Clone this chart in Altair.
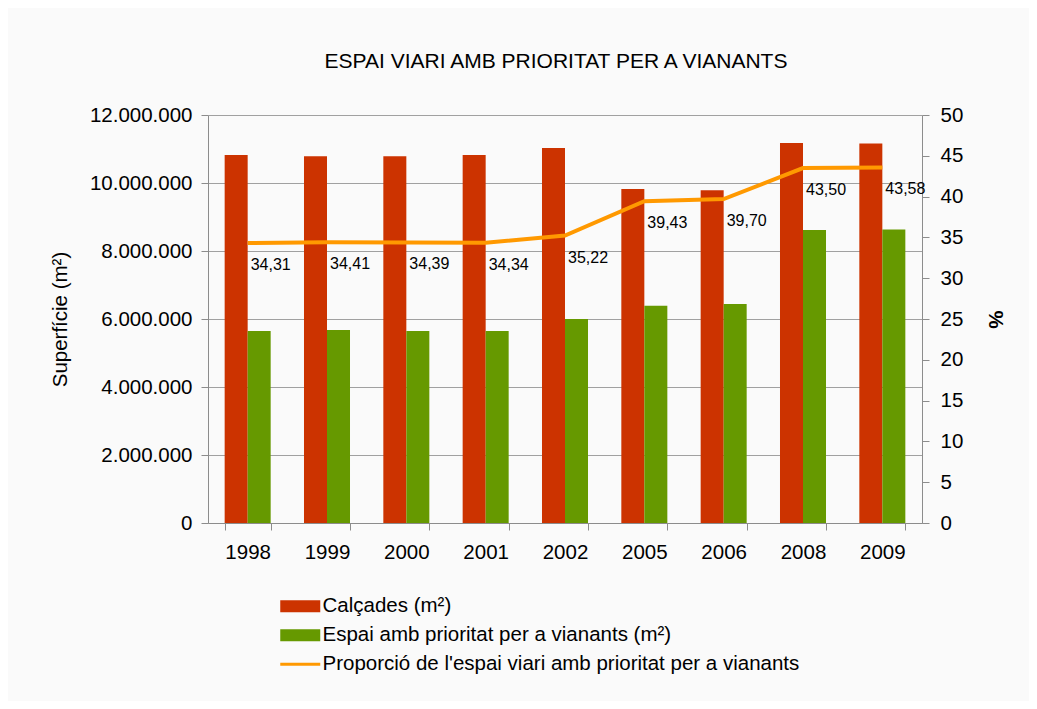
import altair as alt
import pandas as pd

years = ["1998", "1999", "2000", "2001", "2002", "2005", "2006", "2008", "2009"]
calcades = [10820000, 10790000, 10790000, 10820000, 11030000, 9820000, 9790000, 11180000, 11160000]
espai = [5650000, 5680000, 5650000, 5650000, 6000000, 6390000, 6440000, 8620000, 8630000]
proporcio = [34.31, 34.41, 34.39, 34.34, 35.22, 39.43, 39.70, 43.50, 43.58]

S1 = "Calçades (m²)"
S2 = "Espai amb prioritat per a vianants (m²)"
S3 = "Proporció de l'espai viari amb prioritat per a vianants"
series = [S1, S2, S3]
colors = ["#CC3300", "#669900", "#FF9900"]

bars_df = pd.DataFrame({
    "any": years * 2,
    "serie": [S1] * len(years) + [S2] * len(years),
    "valor": calcades + espai,
})
line_df = pd.DataFrame({"any": years, "prop": proporcio})
legend_df = pd.DataFrame({"serie": series})

FONT = "Liberation Sans"
AX = "#8c8c8c"
FS = 20.5

rect_path = "M-2,-0.6H2V0.6H-2Z"
line_path = "M-2,-0.15H2V0.15H-2Z"

legend = alt.Legend(
    title=None, orient="none", legendX=82, legendY=481, direction="vertical",
    labelFontSize=FS, labelColor="#000", labelOffset=12, symbolSize=400,
    symbolStrokeWidth=0, symbolOpacity=1, rowPadding=8, padding=0, labelLimit=700,
)
color_scale = alt.Scale(domain=series, range=colors)

xenc = alt.X(
    "any:N", sort=years, title=None,
    scale=alt.Scale(paddingInner=0.42, paddingOuter=0.21),
    axis=alt.Axis(labelAngle=0, tickBand="extent", labelFontSize=FS, labelPadding=12,
                  tickSize=7, domainColor=AX, tickColor=AX, labelColor="#000", grid=False),
)

bars = alt.Chart(bars_df).mark_bar().encode(
    x=xenc,
    xOffset=alt.XOffset("serie:N", sort=[S1, S2]),
    y=alt.Y(
        "valor:Q",
        scale=alt.Scale(domain=[0, 12000000]),
        axis=alt.Axis(
            title="Superfície (m²)", titleFontSize=FS, titleFontWeight="normal", titleColor="#000",
            titlePadding=19,
            values=list(range(0, 12000001, 2000000)),
            labelExpr="replace(format(datum.value, ','), regexp(',', 'g'), '.')",
            labelFontSize=FS, labelColor="#000", labelPadding=9, tickSize=7,
            domainColor=AX, tickColor=AX, grid=True, gridColor="#a0a0a0",
        ),
    ),
    color=alt.Color("serie:N", scale=color_scale, legend=legend),
)

yright = alt.Y(
    "prop:Q",
    scale=alt.Scale(domain=[0, 50]),
    axis=alt.Axis(
        orient="right", title="%", titleFontSize=FS, titleFontWeight="bold", titleColor="#000",
        titlePadding=22, values=list(range(0, 51, 5)), labelFontSize=FS, labelColor="#000",
        labelPadding=11, tickSize=7, domainColor=AX, tickColor=AX, grid=False,
    ),
)

line = alt.Chart(line_df).mark_line(color="#FF9900", strokeWidth=4).encode(
    x=alt.X("any:N", sort=years), y=yright
)
labels = alt.Chart(line_df).transform_calculate(
    lab="replace(format(datum.prop, '.2f'), '.', ',')"
).mark_text(align="left", baseline="middle", dx=3, dy=22, fontSize=16, color="#000").encode(
    x=alt.X("any:N", sort=years), y=alt.Y("prop:Q"), text="lab:N"
)
legend_pts = alt.Chart(legend_df).transform_filter("false").mark_point(
    filled=True, opacity=1
).encode(
    color=alt.Color("serie:N", scale=color_scale, legend=legend),
    shape=alt.Shape("serie:N", scale=alt.Scale(domain=series, range=[rect_path, rect_path, line_path]),
                    legend=legend),
)

chart = alt.layer(bars, alt.layer(line, labels, legend_pts)).resolve_scale(y="independent").properties(
    width=714, height=408,
    autosize="none",
    padding={"left": 200, "top": 107, "right": 107, "bottom": 178},
    title=alt.Title("ESPAI VIARI AMB PRIORITAT PER A VIANANTS", fontSize=21, fontWeight="normal",
                    color="#000", offset=33, frame="group", dx=-9),
    background="#fafafa",
).configure(font=FONT).configure_view(fill="white", stroke="transparent")

chart.save("out.html", embed_options={"renderer": "svg", "actions": False})
